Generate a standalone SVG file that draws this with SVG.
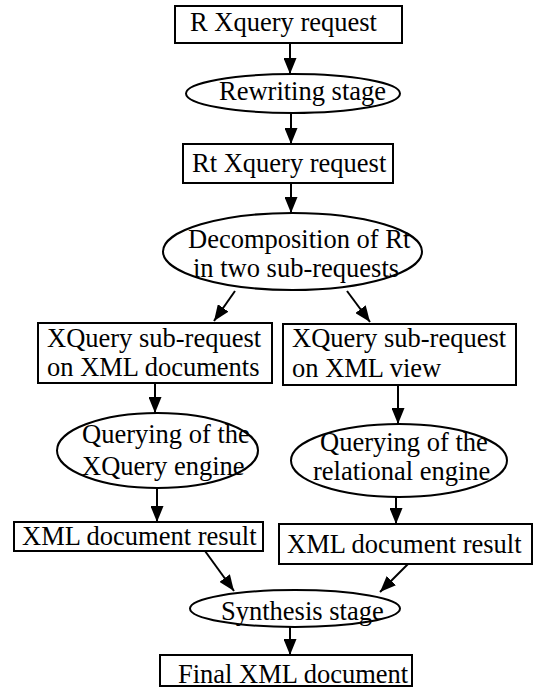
<svg xmlns="http://www.w3.org/2000/svg" width="535" height="688" viewBox="0 0 535 688">
  <style>
    .box { fill: #fff; stroke: #000; stroke-width: 2; }
    .oval { fill: #fff; stroke: #000; stroke-width: 2; }
    .lbl { font-family: "Liberation Serif", "Times New Roman", serif; font-size: 26.5px; fill: #000; }
    .edge { stroke: #000; stroke-width: 2; fill: none; marker-end: url(#head); }
  </style>
  <defs>
    <marker id="head" markerUnits="userSpaceOnUse" markerWidth="16" markerHeight="13" viewBox="0 0 16 13" refX="16" refY="6.5" orient="auto">
      <path d="M0,0 L16,6.5 L0,13 Z" fill="#000"/>
    </marker>
  </defs>
  <rect width="535" height="688" fill="#fff"/>

  <g id="connectors">
    <line class="edge" x1="290" y1="43" x2="290" y2="74"/>
    <line class="edge" x1="291" y1="113" x2="291" y2="144"/>
    <line class="edge" x1="291" y1="183" x2="291" y2="213"/>
    <line class="edge" x1="235" y1="291" x2="214" y2="321"/>
    <line class="edge" x1="347" y1="291" x2="370" y2="322"/>
    <line class="edge" x1="155" y1="383" x2="155" y2="413"/>
    <line class="edge" x1="398" y1="385" x2="398" y2="424"/>
    <line class="edge" x1="157" y1="488" x2="157" y2="522"/>
    <line class="edge" x1="396" y1="497" x2="396" y2="524"/>
    <line class="edge" x1="205" y1="551" x2="234" y2="591"/>
    <line class="edge" x1="408" y1="564" x2="380" y2="592"/>
    <line class="edge" x1="290" y1="627" x2="290" y2="655"/>
  </g>

  <g id="r-request">
    <rect class="box" x="175" y="6" width="227" height="37"/>
    <text class="lbl" x="190" y="31">R Xquery request</text>
  </g>

  <g id="rewriting">
    <ellipse class="oval" cx="293" cy="93.5" rx="107" ry="19.5"/>
    <text class="lbl" x="219" y="100">Rewriting stage</text>
  </g>

  <g id="rt-request">
    <rect class="box" x="183" y="144" width="210" height="39"/>
    <text class="lbl" x="192" y="172">Rt Xquery request</text>
  </g>

  <g id="decomposition">
    <ellipse class="oval" cx="292.5" cy="251.5" rx="129.5" ry="38.5"/>
    <text class="lbl" x="188" y="248">Decomposition of Rt</text>
    <text class="lbl" x="193" y="277">in two sub-requests</text>
  </g>

  <g id="sub-xml-docs">
    <rect class="box" x="38" y="323" width="234" height="60"/>
    <text class="lbl" x="47" y="347">XQuery sub-request</text>
    <text class="lbl" x="47" y="376">on XML documents</text>
  </g>

  <g id="sub-xml-view">
    <rect class="box" x="283" y="324" width="233" height="61"/>
    <text class="lbl" x="292" y="347">XQuery sub-request</text>
    <text class="lbl" x="292" y="377">on XML view</text>
  </g>

  <g id="xquery-engine">
    <ellipse class="oval" cx="157.5" cy="450.5" rx="100.5" ry="37.5"/>
    <text class="lbl" x="82" y="443">Querying of the</text>
    <text class="lbl" x="82" y="475">XQuery engine</text>
  </g>

  <g id="relational-engine">
    <ellipse class="oval" cx="399" cy="460.5" rx="108" ry="36.5"/>
    <text class="lbl" x="320" y="451">Querying of the</text>
    <text class="lbl" x="313" y="480">relational engine</text>
  </g>

  <g id="result-left">
    <rect class="box" x="14" y="522" width="249" height="29"/>
    <text class="lbl" x="22" y="545">XML document result</text>
  </g>

  <g id="result-right">
    <rect class="box" x="279" y="524" width="253" height="40"/>
    <text class="lbl" x="287" y="553">XML document result</text>
  </g>

  <g id="synthesis">
    <ellipse class="oval" cx="295" cy="608.5" rx="105" ry="18.5"/>
    <text class="lbl" x="221" y="620">Synthesis stage</text>
  </g>

  <g id="final-document">
    <rect class="box" x="160" y="655" width="252" height="31"/>
    <text class="lbl" x="178" y="683">Final XML document</text>
  </g>
</svg>
